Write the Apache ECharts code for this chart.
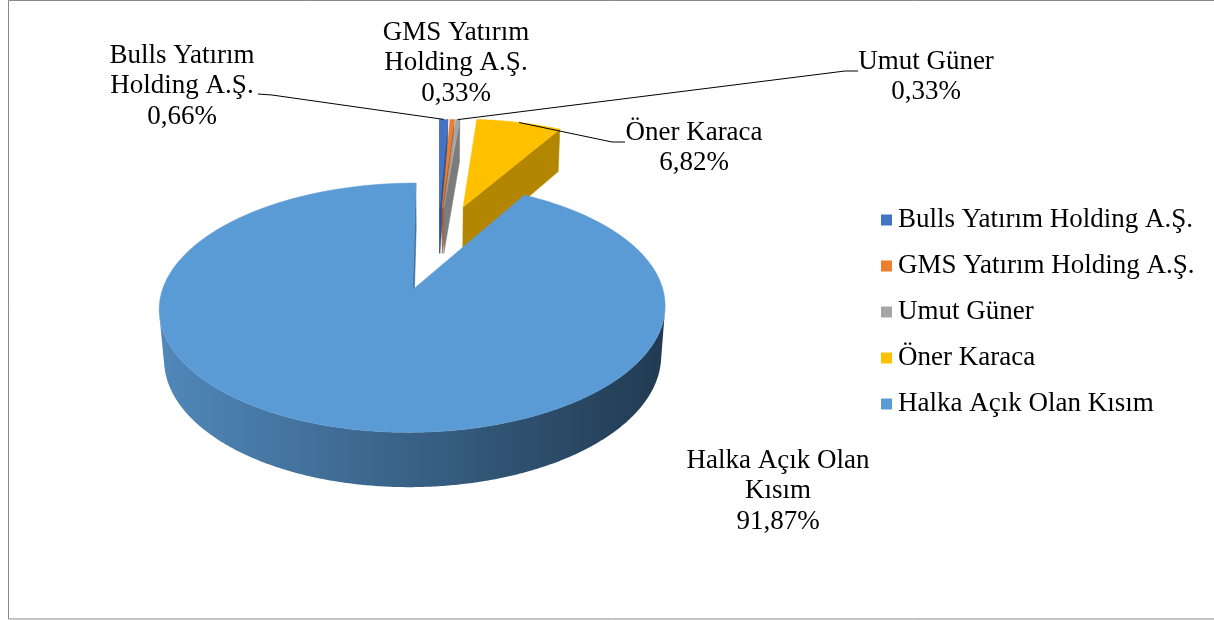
<!DOCTYPE html>
<html>
<head>
<meta charset="utf-8">
<title>Ortaklık Yapısı</title>
<script src="https://cdn.jsdelivr.net/npm/echarts@6/dist/echarts.min.js"></script>
<style>
  html, body { margin: 0; padding: 0; background: #fff; }
  #main { width: 1214px; height: 620px; }
</style>
</head>
<body>
<div id="main"></div>
<script>
// ortaklık yapısı - 3B patlatılmış pasta
var names = ['Bulls Yatırım Holding A.Ş.', 'GMS Yatırım Holding A.Ş.', 'Umut Güner', 'Öner Karaca', 'Halka Açık Olan Kısım'];
var shares = [0.66, 0.33, 0.33, 6.82, 91.87];
var labelNames = ['Bulls Yatırım\nHolding A.Ş.', 'GMS Yatırım\nHolding A.Ş.', 'Umut Güner', 'Öner Karaca', 'Halka Açık Olan\nKısım'];

// stiller
var colors = ['#4472C4', '#ED7D31', '#A5A5A5', '#FFC000', '#5B9BD5'];
var cutColors = ['#2f528f', '#ae5a21', '#7c7c7c', '#b38600', '#41719c'];
var wallStops = [
  ['#3a63ad', '#22406f'],
  ['#d46f2b', '#8a4718'],
  ['#929292', '#5f5f5f'],
  ['#d9a300', '#8a6800'],
  ['#5088ba', '#213a51']
];
var explode = [0.36, 0.36, 0.36, 0.38, 0.4];
var labelPos = [[182, 86], [456, 63], [926, 77], [694, 148], [778, 491]];
var leaderStart = [[[258, 94], [272, 95]], null, [[858, 71], [845, 71]], [[625, 142], [612, 142]], null];
var FONT = '"Liberation Serif", "DejaVu Serif", serif';

// basit perspektif izdüşümü
var CX = 438, CY = 245, K = 1541, D = 6.5, TS = 0.462, TC = 0.887, H = 0.23;
var CAM = [0, D * TS, D * TC];

function proj(X, Y, Z) {
  var v = Y * TC - Z * TS;
  var w = Z * TC + Y * TS;
  var q = K / (D - w);
  return [CX + X * q, CY - v * q];
}

function facing(n, p) {
  return n[0] * (CAM[0] - p[0]) + n[1] * (CAM[1] - p[1]) + n[2] * (CAM[2] - p[2]) > 0;
}

var total = shares.reduce(function (a, b) { return a + b; }, 0);
var startAng = [], endAng = [];
var acc = 0;
shares.forEach(function (v) {
  startAng.push(acc / total * 2 * Math.PI);
  acc += v;
  endAng.push(acc / total * 2 * Math.PI);
});

function geom(i) {
  var a0 = startAng[i], a1 = endAng[i], mid = (a0 + a1) / 2;
  var ox = explode[i] * Math.sin(mid), oz = -explode[i] * Math.cos(mid);
  return {
    a0: a0, a1: a1, mid: mid, ox: ox, oz: oz,
    pt: function (a, y, r) {
      r = r == null ? 1 : r;
      return proj(ox + r * Math.sin(a), y, oz - r * Math.cos(a));
    }
  };
}

function sliceGroup(i) {
  var g = geom(i);
  var a0 = g.a0, a1 = g.a1, ox = g.ox, oz = g.oz;
  var ctop = proj(ox, 0, oz), cbot = proj(ox, -H, oz);
  var children = [];

  // kesit yüzleri
  [[a0, -1], [a1, 1]].forEach(function (f) {
    var a = f[0], sg = f[1];
    var n = [sg * Math.cos(a), 0, sg * Math.sin(a)];
    var pc = [ox + 0.5 * Math.sin(a), -H / 2, oz - 0.5 * Math.cos(a)];
    if (facing(n, pc)) {
      children.push({
        type: 'polygon',
        shape: { points: [ctop, g.pt(a, 0), g.pt(a, -H), cbot] },
        style: { fill: cutColors[i], stroke: cutColors[i], lineWidth: 0.5 }
      });
    }
  });

  // dış duvar
  var steps = Math.max(2, Math.ceil((a1 - a0) / (Math.PI / 360)));
  var runs = [], run = [];
  for (var k = 0; k <= steps; k++) {
    var a = a0 + (a1 - a0) * k / steps;
    var n = [Math.sin(a), 0, -Math.cos(a)];
    var pc = [ox + Math.sin(a), -H / 2, oz - Math.cos(a)];
    if (facing(n, pc)) {
      run.push(a);
    } else {
      if (run.length > 1) runs.push(run);
      run = [];
    }
  }
  if (run.length > 1) runs.push(run);
  runs.forEach(function (r) {
    var top = r.map(function (a) { return g.pt(a, 0); });
    var bot = r.map(function (a) { return g.pt(a, -H); }).reverse();
    var xs = top.map(function (p) { return p[0]; });
    var x0 = Math.min.apply(null, xs), x1 = Math.max.apply(null, xs);
    var fill = new echarts.graphic.LinearGradient(x0, 0, Math.max(x1, x0 + 1), 0, [
      { offset: 0, color: wallStops[i][0] },
      { offset: 1, color: wallStops[i][1] }
    ], true);
    children.push({
      type: 'polygon',
      shape: { points: top.concat(bot) },
      style: { fill: fill }
    });
  });

  // üst yüz
  var arc = [ctop];
  var n2 = Math.max(2, Math.ceil((a1 - a0) / (Math.PI / 360)));
  for (var j = 0; j <= n2; j++) {
    arc.push(g.pt(a0 + (a1 - a0) * j / n2, 0));
  }
  children.push({
    type: 'polygon',
    shape: { points: arc },
    style: { fill: colors[i], stroke: colors[i], lineWidth: 0.5 }
  });

  return { type: 'group', children: children };
}

var chart = echarts.init(document.getElementById('main'));

var graphics = [{
  type: 'rect',
  shape: { x: 8.5, y: 0.5, width: 1220, height: 618.5 },
  style: { fill: 'none', stroke: '#898989', lineWidth: 1 },
  z: 0
}];

names.forEach(function (nm, i) {
  graphics.push({
    type: 'text',
    x: labelPos[i][0],
    y: labelPos[i][1],
    z: 100,
    style: {
      text: labelNames[i] + '\n' + shares[i].toFixed(2).replace('.', ',') + '%',
      font: '27px ' + FONT,
      fill: '#000',
      align: 'center',
      verticalAlign: 'middle',
      lineHeight: 30.5
    }
  });
  if (leaderStart[i]) {
    var g = geom(i);
    var end = g.pt(g.mid, 0, 1);
    graphics.push({
      type: 'polyline',
      z: 100,
      shape: { points: leaderStart[i].concat([end]) },
      style: { stroke: '#000', lineWidth: 1, fill: null }
    });
  }
});

var series = names.map(function (nm, i) {
  return {
    type: 'custom',
    name: nm,
    coordinateSystem: 'none',
    z: 2 + i,
    silent: true,
    itemStyle: { color: colors[i] },
    data: [shares[i]],
    renderItem: function () {
      return sliceGroup(i);
    }
  };
});

chart.setOption({
  backgroundColor: '#fff',
  animation: false,
  legend: {
    orient: 'vertical',
    left: 876,
    top: 200,
    itemWidth: 11,
    itemHeight: 11,
    itemGap: 16,
    icon: 'rect',
    data: names,
    textStyle: {
      fontFamily: FONT,
      fontSize: 27,
      color: '#000',
      lineHeight: 30,
      padding: [0, 0, 0, 1]
    }
  },
  graphic: graphics,
  series: series
});
</script>
</body>
</html>
